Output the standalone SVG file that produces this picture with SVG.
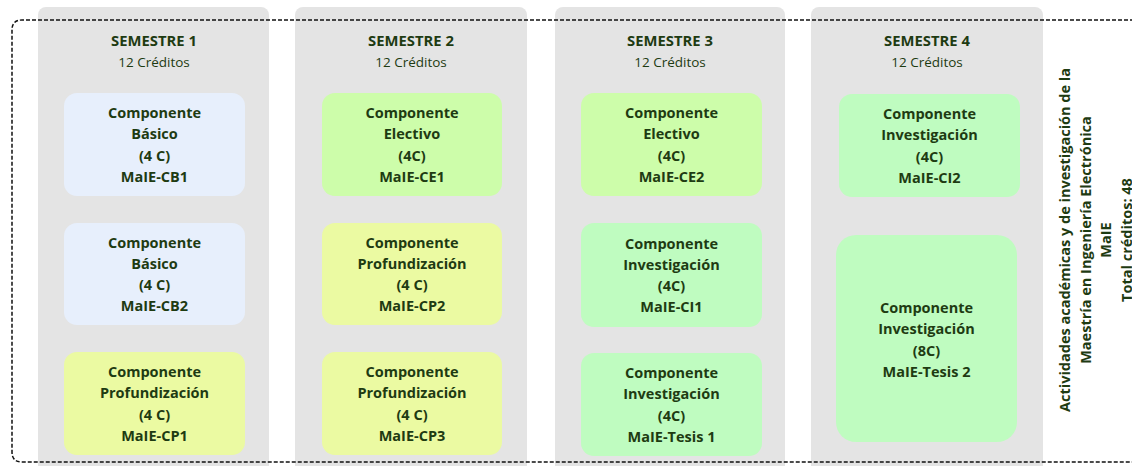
<svg xmlns="http://www.w3.org/2000/svg" width="1132" height="466" viewBox="0 0 1132 466">
<style>
.col{fill:#e4e4e4;}
.hdr{font-family:"Open Sans","Liberation Sans",sans-serif;font-size:14.8px;font-weight:bold;fill:#1e3b12;text-anchor:middle;}
.sub{font-family:"Open Sans","Liberation Sans",sans-serif;font-size:13.5px;fill:#1e3b12;text-anchor:middle;}
.bt{font-family:"Open Sans","Liberation Sans",sans-serif;font-size:14.5px;font-weight:bold;fill:#1e3b12;text-anchor:middle;}
.vt{font-family:"Open Sans","Liberation Sans",sans-serif;font-size:14.5px;font-weight:bold;fill:#1e3b12;text-anchor:middle;}
.blue{fill:#e7effc;}
.yel{fill:#ebfaa2;}
.grn{fill:#cdfdaa;}
.mint{fill:#bffcc0;}
.frame{fill:none;stroke:#111;stroke-width:1.5;stroke-dasharray:4 2;}
</style>
<rect width="1132" height="466" fill="#ffffff"/>
<g id="columns">
<path class="col" d="M38 473V15a8 8 0 0 1 8-8H261a8 8 0 0 1 8 8V473Z"/>
<path class="col" d="M295 473V15a8 8 0 0 1 8-8H519a8 8 0 0 1 8 8V473Z"/>
<path class="col" d="M555 473V15a8 8 0 0 1 8-8H777a8 8 0 0 1 8 8V473Z"/>
<path class="col" d="M811 473V15a8 8 0 0 1 8-8H1035a8 8 0 0 1 8 8V473Z"/>
</g>
<g id="frame">
<path class="frame" d="M1140 20H22Q12 20 12 30V452Q12 462 22 462H1140"/>
</g>
<g id="headers">
<text class="hdr" x="154" y="46">SEMESTRE 1</text>
<text class="sub" x="154" y="67">12 Créditos</text>
<text class="hdr" x="411" y="46">SEMESTRE 2</text>
<text class="sub" x="411" y="67">12 Créditos</text>
<text class="hdr" x="670" y="46">SEMESTRE 3</text>
<text class="sub" x="670" y="67">12 Créditos</text>
<text class="hdr" x="927" y="46">SEMESTRE 4</text>
<text class="sub" x="927" y="67">12 Créditos</text>
</g>
<g id="CB1">
<rect class="blue" x="64" y="93" width="181" height="103" rx="13"/>
<text class="bt" x="154.5" y="118">Componente<tspan x="154.5" dy="21.3">Básico</tspan><tspan x="154.5" dy="21.3">(4 C)</tspan><tspan x="154.5" dy="21.3">MaIE-CB1</tspan></text>
</g>
<g id="CB2">
<rect class="blue" x="64" y="223" width="181" height="102" rx="13"/>
<text class="bt" x="154.5" y="247.5">Componente<tspan x="154.5" dy="21.3">Básico</tspan><tspan x="154.5" dy="21.3">(4 C)</tspan><tspan x="154.5" dy="21.3">MaIE-CB2</tspan></text>
</g>
<g id="CP1">
<rect class="yel" x="64" y="352" width="181" height="103" rx="13"/>
<text class="bt" x="154.5" y="377">Componente<tspan x="154.5" dy="21.3">Profundización</tspan><tspan x="154.5" dy="21.3">(4 C)</tspan><tspan x="154.5" dy="21.3">MaIE-CP1</tspan></text>
</g>
<g id="CE1">
<rect class="grn" x="322" y="93" width="180" height="103" rx="13"/>
<text class="bt" x="412" y="118">Componente<tspan x="412" dy="21.3">Electivo</tspan><tspan x="412" dy="21.3">(4C)</tspan><tspan x="412" dy="21.3">MaIE-CE1</tspan></text>
</g>
<g id="CP2">
<rect class="yel" x="322" y="223" width="180" height="102" rx="13"/>
<text class="bt" x="412" y="247.5">Componente<tspan x="412" dy="21.3">Profundización</tspan><tspan x="412" dy="21.3">(4 C)</tspan><tspan x="412" dy="21.3">MaIE-CP2</tspan></text>
</g>
<g id="CP3">
<rect class="yel" x="322" y="352" width="180" height="103" rx="13"/>
<text class="bt" x="412" y="377">Componente<tspan x="412" dy="21.3">Profundización</tspan><tspan x="412" dy="21.3">(4 C)</tspan><tspan x="412" dy="21.3">MaIE-CP3</tspan></text>
</g>
<g id="CE2">
<rect class="grn" x="581" y="93" width="181" height="103" rx="13"/>
<text class="bt" x="671.5" y="118">Componente<tspan x="671.5" dy="21.3">Electivo</tspan><tspan x="671.5" dy="21.3">(4C)</tspan><tspan x="671.5" dy="21.3">MaIE-CE2</tspan></text>
</g>
<g id="CI1">
<rect class="mint" x="581" y="223" width="181" height="104" rx="13"/>
<text class="bt" x="671.5" y="248.5">Componente<tspan x="671.5" dy="21.3">Investigación</tspan><tspan x="671.5" dy="21.3">(4C)</tspan><tspan x="671.5" dy="21.3">MaIE-CI1</tspan></text>
</g>
<g id="Tesis1">
<rect class="mint" x="581" y="353" width="181" height="103" rx="13"/>
<text class="bt" x="671.5" y="378">Componente<tspan x="671.5" dy="21.3">Investigación</tspan><tspan x="671.5" dy="21.3">(4C)</tspan><tspan x="671.5" dy="21.3">MaIE-Tesis 1</tspan></text>
</g>
<g id="CI2">
<rect class="mint" x="839" y="94" width="181" height="103" rx="13"/>
<text class="bt" x="929.5" y="119">Componente<tspan x="929.5" dy="21.3">Investigación</tspan><tspan x="929.5" dy="21.3">(4C)</tspan><tspan x="929.5" dy="21.3">MaIE-CI2</tspan></text>
</g>
<g id="Tesis2">
<rect class="mint" x="836" y="235" width="181" height="207" rx="20"/>
<text class="bt" x="926.5" y="313">Componente<tspan x="926.5" dy="21.3">Investigación</tspan><tspan x="926.5" dy="21.3">(8C)</tspan><tspan x="926.5" dy="21.3">MaIE-Tesis 2</tspan></text>
</g>
<g id="summary">
<text class="vt" transform="translate(1070 240) rotate(-90)">Actividades académicas y de investigación de la<tspan x="0" dy="20.7">Maestría en Ingeniería Electrónica</tspan><tspan x="0" dy="20.7">MaIE</tspan><tspan x="0" dy="20.7">Total créditos: 48</tspan></text>
</g>
</svg>
